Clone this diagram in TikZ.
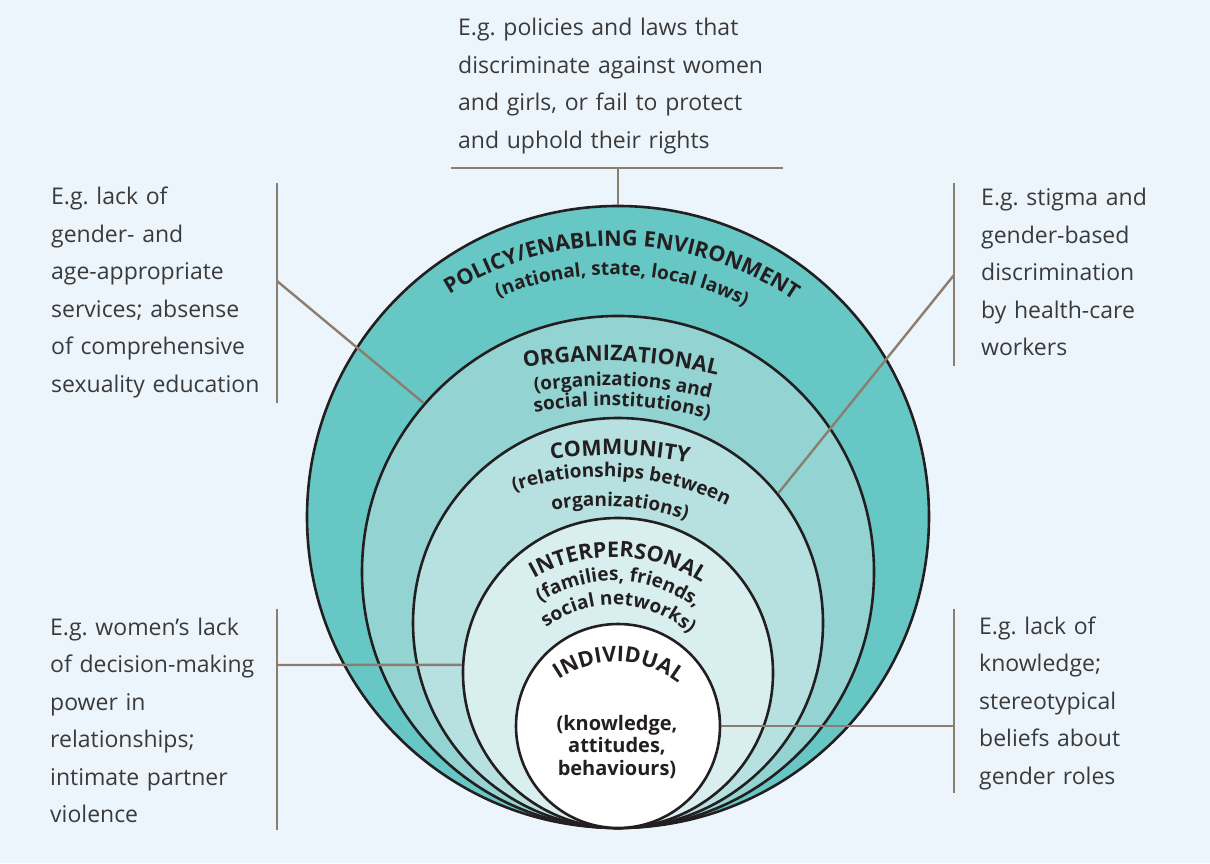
\documentclass[tikz,border=0pt]{standalone}
\usepackage{fontspec}
\setmainfont{Open Sans}
\usetikzlibrary{decorations.text}

\definecolor{paper}{RGB}{237,245,252}
\definecolor{ink}{RGB}{35,31,32}
\definecolor{notegray}{RGB}{58,58,58}
\definecolor{linkgray}{RGB}{139,126,111}
\definecolor{policyfill}{RGB}{102,199,197}
\definecolor{orgfill}{RGB}{147,212,211}
\definecolor{commfill}{RGB}{183,225,225}
\definecolor{interfill}{RGB}{216,238,239}

\newcommand{\capsfont}{\fontsize{21.5}{25}\selectfont\bfseries\color{ink}}
\newcommand{\lowfont}{\fontsize{19}{22}\selectfont\bfseries\color{ink}}
\newcommand{\ringtext}[5]{%
  \path[decorate, decoration={text along path, text align=center, text={#5}}]
    (#1,#2) ++(#4+60:#3) arc[start angle=#4+60, end angle=#4-60, radius=#3];}

\begin{document}
\begin{tikzpicture}[x=1pt, y=1pt,
    ring/.style={circle, draw=ink, line width=2.6pt, inner sep=0pt},
    link/.style={draw=linkgray, line width=2.4pt},
    note/.style={anchor=base west, inner sep=0pt, text width=340pt, align=left,
      text=notegray, font=\fontsize{23}{37.5}\selectfont}]
    \useasboundingbox (0,0) rectangle (1210,863);
    \fill[paper] (0,0) rectangle (1210,863);

    \node[ring, fill=policyfill, minimum size=622pt] (policy) at (618,346) {};
    \node[ring, fill=orgfill, minimum size=512pt] (org) at (618,291) {};
    \node[ring, fill=commfill, minimum size=410pt] (comm) at (618,240) {};
    \node[ring, fill=interfill, minimum size=310pt] (inter) at (618,190) {};
    \node[ring, fill=white, minimum size=204pt] (indiv) at (618,137) {};

    \ringtext{617}{303}{314}{89}{|\capsfont|POLICY/ENABLING ENVIRONMENT}
    \ringtext{612}{291}{297}{88}{|\lowfont|(national, state, local laws)}
    \ringtext{604}{38}{464}{87.9}{|\capsfont|ORGANIZATIONAL}
    \ringtext{606}{38}{439}{87.8}{|\lowfont|(organizations and}
    \ringtext{606}{38}{419}{87.8}{|\lowfont|social institutions)}
    \ringtext{612}{28}{380}{88.8}{|\capsfont|COMMUNITY}
    \ringtext{603}{101}{285}{86.2}{|\lowfont|(relationships between}
    \ringtext{603}{101}{256}{86.2}{|\lowfont|organizations)}
    \ringtext{614}{145}{161}{88.4}{|\capsfont|INTERPERSONAL}
    \ringtext{614}{145}{137}{87.9}{|\lowfont|(families, friends,}
    \ringtext{614}{145}{113}{87.5}{|\lowfont|social networks)}
    \ringtext{616}{99}{102}{88.3}{|\capsfont|INDIVIDUAL}
    \node[anchor=base, inner sep=0pt, text width=160pt, align=center, text=ink,
      font=\fontsize{20}{22.5}\selectfont\bfseries] (indivText) at (617,133)
      {(knowledge,\\attitudes,\\behaviours)};

    \node[note] (lawsNote) at (458,827) {E.g.\ policies and laws that\\discriminate against women\\and girls, or fail to protect\\and uphold their rights};
    \node[note] (servicesNote) at (51,658) {E.g.\ lack of\\gender- and\\age-appropriate\\services; absense\\of comprehensive\\sexuality education};
    \node[note] (stigmaNote) at (981,657) {E.g.\ stigma and\\gender-based\\discrimination\\by health-care\\workers};
    \node[note] (powerNote) at (50,228) {E.g.\ women’s lack\\of decision-making\\power in\\relationships;\\intimate partner\\violence};
    \node[note] (knowledgeNote) at (979,229) {E.g.\ lack of\\knowledge;\\stereotypical\\beliefs about\\gender roles};

    \coordinate (lawsL) at (451,695);
    \coordinate (lawsR) at (783,695);
    \coordinate (lawsMid) at (618,695);
    \draw[link] (lawsL) -- (lawsR);
    \draw[link] (lawsMid) -- (policy.north);

    \coordinate (servicesTop) at (277,680);
    \coordinate (servicesBot) at (277,460);
    \coordinate (servicesMid) at (277,582);
    \draw[link] (servicesTop) -- (servicesBot);
    \draw[link] (servicesMid) -- (org.139.4);

    \coordinate (stigmaTop) at (954,680);
    \coordinate (stigmaBot) at (954,497);
    \coordinate (stigmaMid) at (954,588);
    \draw[link] (stigmaTop) -- (stigmaBot);
    \draw[link] (stigmaMid) -- (comm.39.3);

    \coordinate (powerTop) at (277,254);
    \coordinate (powerBot) at (277,33);
    \coordinate (powerMid) at (277,198);
    \draw[link] (powerTop) -- (powerBot);
    \draw[link] (powerMid) -- (inter.177);

    \coordinate (knowledgeTop) at (954,254);
    \coordinate (knowledgeBot) at (954,70);
    \coordinate (knowledgeMid) at (954,137);
    \draw[link] (knowledgeTop) -- (knowledgeBot);
    \draw[link] (knowledgeMid) -- (indiv.east);
  \end{tikzpicture}
\end{document}
